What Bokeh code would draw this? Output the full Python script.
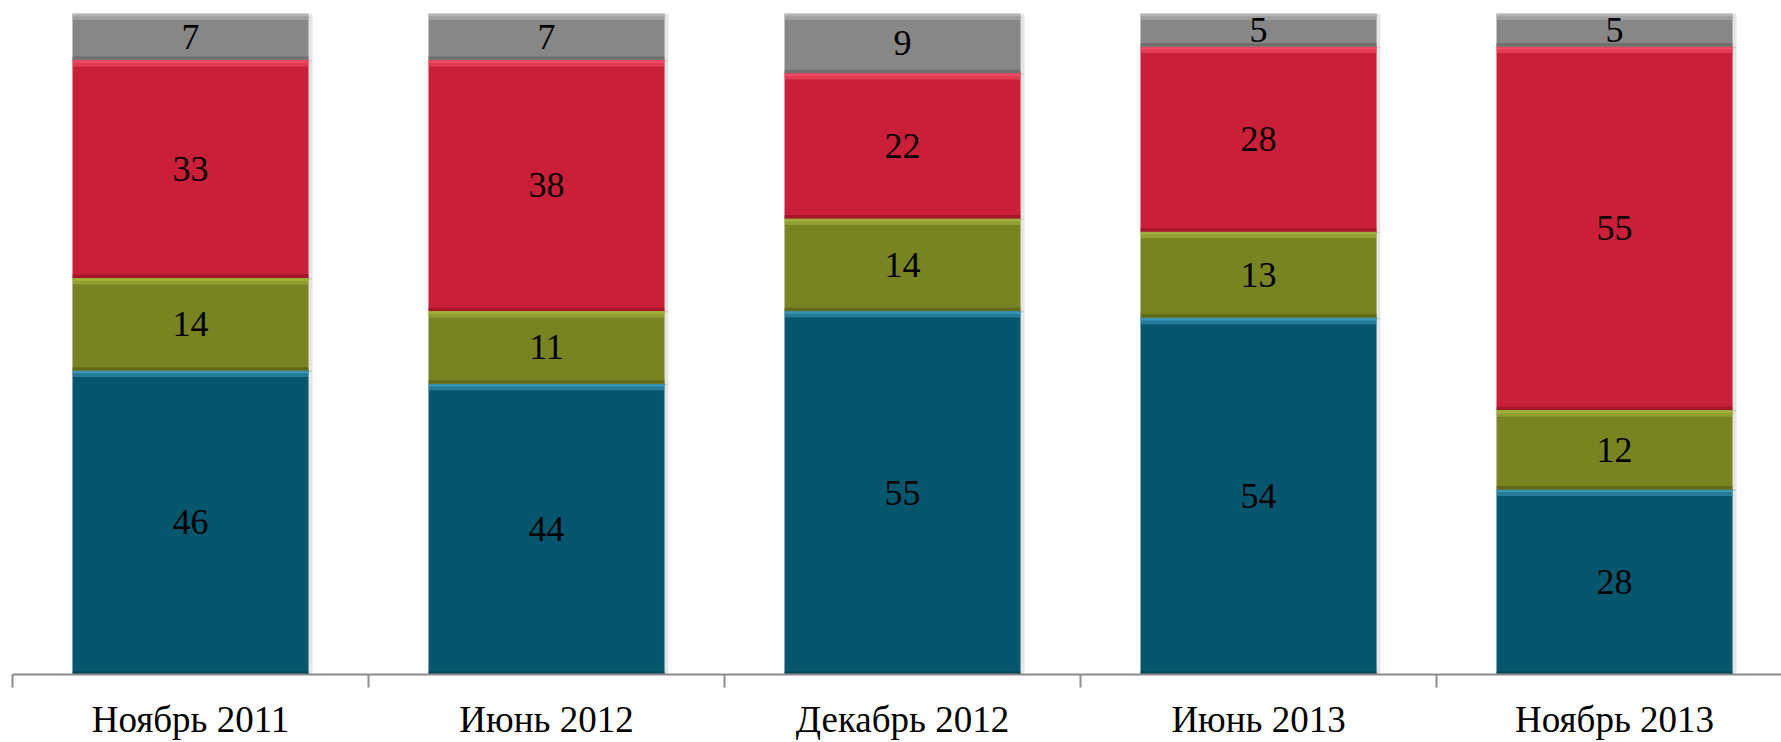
from bokeh.plotting import figure
from bokeh.models import ColumnDataSource, FixedTicker, Range1d
from bokeh.core.properties import value
from bokeh.embed import file_html
from bokeh.resources import INLINE

# ---- data ----
categories = ["Ноябрь 2011", "Июнь 2012", "Декабрь 2012", "Июнь 2013", "Ноябрь 2013"]
series_teal = [46, 44, 55, 54, 28]
series_olive = [14, 11, 14, 13, 12]
series_red = [33, 38, 22, 28, 55]
series_gray = [7, 7, 9, 5, 5]

series = [series_teal, series_olive, series_red, series_gray]
colors = ["#06576E", "#778421", "#CA1F38", "#878787"]
highlights = ["#4BAACB", "#B4C444", "#FF5A74", "#BDBDBD"]
shadows = ["#023847", "#4C5512", "#86121F", "#5A5A5A"]

FONT = "Liberation Serif"
BAR_W = 0.663

p = figure(width=1781, height=742, output_backend="svg", toolbar_location=None,
           x_range=Range1d(-0.5, 4.469), y_range=Range1d(0, 100),
           min_border_left=12, min_border_right=0, min_border_top=13, min_border_bottom=68)
p.outline_line_color = None
p.xgrid.visible = False
p.ygrid.visible = False
p.yaxis.visible = False
p.background_fill_color = "white"
p.border_fill_color = "white"

xs = list(range(len(categories)))
bottoms = [0] * len(categories)
lab_x, lab_y, lab_t = [], [], []
for vals, col, hi, sh in zip(series, colors, highlights, shadows):
    tops = [b + v for b, v in zip(bottoms, vals)]
    # soft drop shadow
    src_sh = ColumnDataSource(dict(x=[x + 0.006 for x in xs], top=tops,
                                   bottom=[b - 0.25 for b in bottoms]))
    p.vbar(x="x", top="top", bottom="bottom", width=BAR_W + 0.01, source=src_sh,
           fill_color="#000000", fill_alpha=0.10, line_color=None)
    src = ColumnDataSource(dict(x=xs, top=tops, bottom=bottoms))
    p.vbar(x="x", top="top", bottom="bottom", width=BAR_W, source=src,
           fill_color=col, line_color=None)
    # bevel: darker bottom edge
    src_b = ColumnDataSource(dict(x=xs, top=[b + 0.5 for b in bottoms], bottom=bottoms))
    p.vbar(x="x", top="top", bottom="bottom", width=BAR_W, source=src_b,
           fill_color=sh, fill_alpha=0.55, line_color=None)
    # bevel: lighter top edge (soft + bright rim)
    src_t = ColumnDataSource(dict(x=xs, top=tops, bottom=[t - 1.0 for t in tops]))
    p.vbar(x="x", top="top", bottom="bottom", width=BAR_W, source=src_t,
           fill_color=hi, fill_alpha=0.45, line_color=None)
    src_t2 = ColumnDataSource(dict(x=xs, top=tops, bottom=[t - 0.4 for t in tops]))
    p.vbar(x="x", top="top", bottom="bottom", width=BAR_W, source=src_t2,
           fill_color=hi, fill_alpha=0.75, line_color=None)
    for x, b, v in zip(xs, bottoms, vals):
        lab_x.append(x)
        lab_y.append(b + v / 2)
        lab_t.append(str(v))
    bottoms = tops

p.text(x="x", y="y", text="t", source=ColumnDataSource(dict(x=lab_x, y=lab_y, t=lab_t)),
       text_font=value(FONT), text_font_size="36px", text_color="black",
       text_align="center", text_baseline="middle")

ax = p.xaxis[0]
ax.ticker = FixedTicker(ticks=xs, minor_ticks=[x - 0.5 for x in xs] + [len(xs) - 0.5])
ax.major_label_overrides = {x: c for x, c in zip(xs, categories)}
ax.major_tick_out = 0
ax.major_tick_in = 0
ax.minor_tick_out = 13
ax.minor_tick_in = 0
ax.axis_line_color = "#8C8C8C"
ax.axis_line_width = 2
ax.minor_tick_line_color = "#8C8C8C"
ax.minor_tick_line_width = 2
ax.major_label_text_font = FONT
ax.major_label_text_font_size = "37px"
ax.major_label_text_color = "black"
ax.major_label_standoff = 11

open("out.html", "w").write(file_html(p, INLINE))
